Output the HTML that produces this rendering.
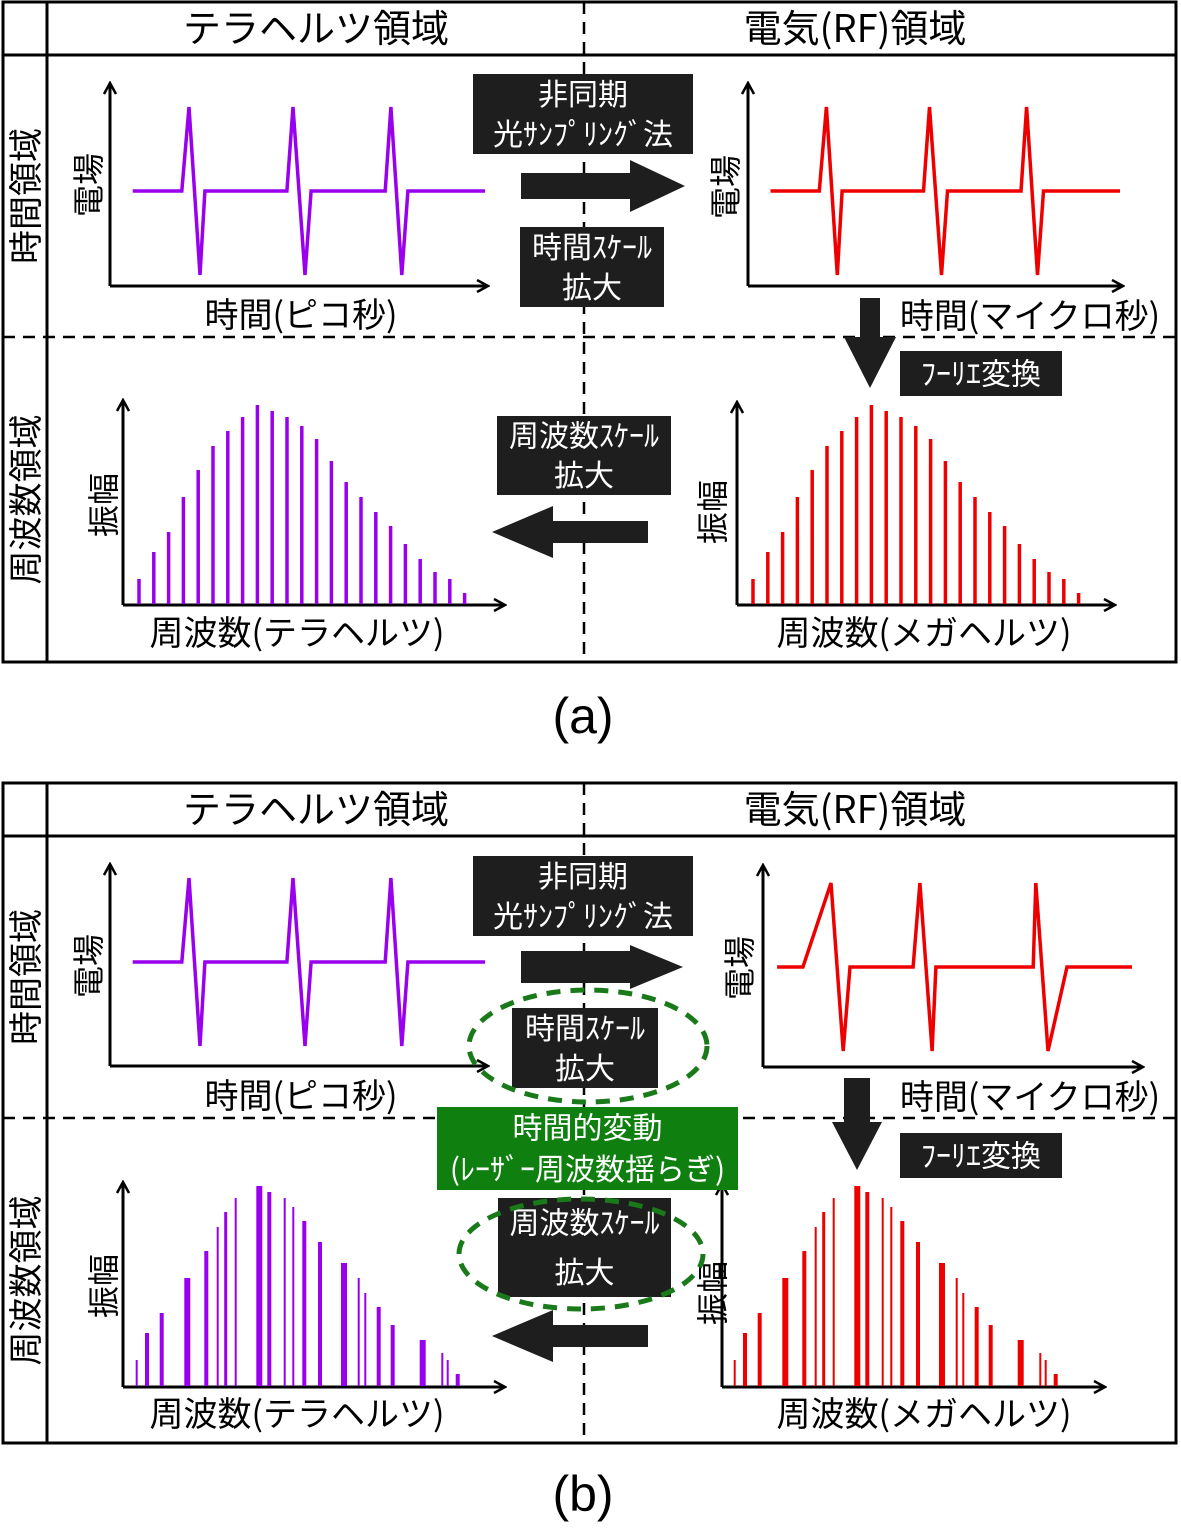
<!DOCTYPE html>
<html><head><meta charset="utf-8">
<style>
html,body{margin:0;padding:0;background:#fff;}
svg{display:block;font-family:"Liberation Sans","Noto Sans CJK JP",sans-serif;}
.cj{font-family:"Noto Sans CJK JP","Liberation Sans",sans-serif;}
</style></head>
<body>
<svg id="fig" width="1181" height="1531" viewBox="0 0 1181 1531" xmlns="http://www.w3.org/2000/svg">
<defs>
<marker id="ah" markerWidth="14" markerHeight="14" refX="12" refY="7" orient="auto" markerUnits="userSpaceOnUse">
<path d="M1,1 L12,7 L1,13" fill="none" stroke="#000" stroke-width="2.5"/>
</marker>
</defs>
<g id="static"></g>
<g id="marks"></g>
</svg>
<script>
// ---- data ----
const pulseTimeA = [6,19,20.9,23.8,25.1,46.8,48.4,51.6,53.2,72.8,74.3,77.2,78.8,99.2];
const pulseFieldA = [0,0,1,-1,0,0,1,-1,0,0,1,-1,0,0];
const pulseTimeRedB = [3.7,10.5,17.9,21.1,22.9,39.5,41.3,44.5,45.5,71.1,71.8,75,80,97.1];
const pulseFieldRedB = [0,0,1,-1,0,0,1,-1,0,0,1,-1,0,0];
const specFreqA = [16,30.8,45.6,60.4,75.2,90,104.8,119.6,134.4,149.2,164,178.8,193.6,208.4,223.2,238,252.8,267.6,282.4,297.2,312,326.8,341.6];
const specAmpA = [26,53,73,108,135,159,174,188,200,194,188,179,166,144,123,108,93,79,61,46,33,26,12];
const specFreqB = [13.7,24,38.7,64.3,83.3,94.7,102.7,112.7,136.3,146.3,161.7,170.3,181.3,197,221,235.7,242.3,255.7,269.7,299.7,319.3,324.7,334.7];
const specAmpB = [27,54,74,109,136,160,175,189,201,195,189,180,166,145,124,109,94,80,62,47,34,27,13];
const barWeightB = [2,4,4,6,4,2,3,2,6,4,2,2,4,4,6,2,2,4,4,6,2,2,4];

const NS="http://www.w3.org/2000/svg";
const S=document.getElementById('static'), M=document.getElementById('marks');
function el(tag,attrs,parent,txt){const e=document.createElementNS(NS,tag);for(const k in attrs)e.setAttribute(k,attrs[k]);if(txt!==undefined)e.textContent=txt;(parent||S).appendChild(e);return e;}

function frame(top,headerY,midY,bottom,label,labelY){
  let r=el('rect',{x:3,y:top,width:1173,height:bottom-top,fill:'none',stroke:'#000','stroke-width':3});
  
  el('line',{x1:3,y1:headerY,x2:1176,y2:headerY,stroke:'#000','stroke-width':3});
  el('line',{x1:47,y1:top,x2:47,y2:bottom,stroke:'#000','stroke-width':3});
  let d=el('line',{x1:3,y1:midY,x2:1176,y2:midY,stroke:'#000','stroke-width':2.5,'stroke-dasharray':'12 8'});
  
  let v=el('line',{x1:584,y1:top,x2:584,y2:bottom,stroke:'#000','stroke-width':2.5,'stroke-dasharray':'12 8'});
  
  let t1=el('text',{x:316,y:headerY-13,'font-size':38,'text-anchor':'middle'},S,'テラヘルツ領域');
  
  let t2=el('text',{x:855,y:headerY-13,'font-size':38,'text-anchor':'middle','class':'cj'},S,'電気(RF)領域');
  
  let cy1=(headerY+midY)/2, cy2=(midY+bottom)/2;
  let t3=el('text',{x:0,y:0,'font-size':34,'text-anchor':'middle',transform:`translate(38,${cy1}) rotate(-90)`},S,'時間領域');
  
  let t4=el('text',{x:0,y:0,'font-size':34,'text-anchor':'middle',transform:`translate(38,${cy2}) rotate(-90)`},S,'周波数領域');
  
  let t5=el('text',{x:583,y:labelY,'font-size':50,'text-anchor':'middle'},S,label);
  
}
frame(2,55,337,662,'(a)',733);
frame(783,836,1118,1443,'(b)',1511);

function axes(x0,y0,top,right){
  el('line',{x1:x0,y1:y0,x2:x0,y2:top,stroke:'#000','stroke-width':3,'marker-end':'url(#ah)'});
  el('line',{x1:x0,y1:y0,x2:right,y2:y0,stroke:'#000','stroke-width':3,'marker-end':'url(#ah)'});
}
function vtext(x,y,t,name){let e=el('text',{x:0,y:0,'font-size':32,'text-anchor':'middle',transform:`translate(${x},${y}) rotate(-90)`},S,t);}
function htext(x,y,t,name,size){let e=el('text',{x:x,y:y,'font-size':size||34,'text-anchor':'middle','class':'cj'},S,t);}

function pulsePlot(ax,ay,top,right,zeroY,amp,ts,vs,color,name){
  axes(ax,ay,top,right);
  const xs=t=>ax+(right-ax)*t/100, ys=v=>zeroY-v*amp;
  const pts=ts.map((t,i)=>xs(t).toFixed(1)+','+ys(vs[i]).toFixed(1)).join(' ');
  const p=el('polyline',{points:pts,fill:'none',stroke:color,'stroke-width':3.5,'stroke-linejoin':'miter'},M);
  
  
}
pulsePlot(110,286,83,488,191,84,pulseTimeA,pulseFieldA,'#9900ee','thz-pulse-train-a');
pulsePlot(748,286,83,1123,191,84,pulseTimeA,pulseFieldA,'#ee0000','rf-pulse-train-a');
pulsePlot(110,1066,864,488,962,84,pulseTimeA,pulseFieldA,'#9900ee','thz-pulse-train-b');
pulsePlot(763,1067,865,1143,967,84,pulseTimeRedB,pulseFieldRedB,'#ee0000','rf-pulse-train-b');

function specPlot(ax,ay,top,right,fs,as,ws,color,name){
  axes(ax,ay,top,right);
  const xs=f=>ax+f, ys=a=>ay-a;
  fs.forEach((f,i)=>{
    const b=el('line',{x1:xs(f),y1:ay-1,x2:xs(f),y2:ys(as[i]),stroke:color,'stroke-width':ws?ws[i]:3.5},M);
    
    
  });
}
specPlot(123,605,400,505,specFreqA,specAmpA,null,'#9900ee','thz-spectrum-a');
specPlot(737,605,402,1115,specFreqA,specAmpA,null,'#ee0000','rf-spectrum-a');
specPlot(123,1387,1182,505,specFreqB,specAmpB,barWeightB,'#9900ee','thz-spectrum-b');
specPlot(722,1387,1184,1105,specFreqB.map(f=>f-1),specAmpB,barWeightB,'#ee0000','rf-spectrum-b');

[[0,0],[1,781]].forEach(([k,dy])=>{
  htext(301,327+dy,'時間(ピコ秒)','time-ps-label');
  htext(1030,328+dy,'時間(マイクロ秒)','time-us-label');
  htext(297,645+dy,'周波数(テラヘルツ)','freq-thz-label');
  htext(924,645+dy,'周波数(メガヘルツ)','freq-mhz-label');
  vtext(100,185+dy,'電場','efield-label-thz');
  vtext(k?751:737,187+dy,'電場','efield-label-rf');
  vtext(115,505+dy,'振幅','amplitude-label-thz');
  vtext(724,512+dy,'振幅','amplitude-label-rf');
});

function box(x,y,w,h,lines,name,fill,size){
  const g=el('g',{});
  el('rect',{x:x,y:y,width:w,height:h,fill:fill||'#1e1e1e'},g);
  const n=lines.length;
  lines.forEach((t,i)=>el('text',{x:x+w/2,y:y+h*(i+0.5)/n+(size||30)*0.36,'font-size':size||30,'text-anchor':'middle',fill:'#fff','class':'cj'},g,t));
}
function arrowRight(x1,x2,xh,cy,sh,hh,name){
  const p=el('polygon',{points:`${x1},${cy-sh} ${xh},${cy-sh} ${xh},${cy-hh} ${x2},${cy} ${xh},${cy+hh} ${xh},${cy+sh} ${x1},${cy+sh}`,fill:'#1e1e1e'});
  
}
function arrowDown(cx,y1,yh,y2,sw,hw,name){
  const p=el('polygon',{points:`${cx-sw},${y1} ${cx+sw},${y1} ${cx+sw},${yh} ${cx+hw},${yh} ${cx},${y2} ${cx-hw},${yh} ${cx-sw},${yh}`,fill:'#1e1e1e'});
  
}
box(473,74,220,80,['非同期','光ｻﾝﾌﾟﾘﾝｸﾞ法'],'async-sampling-box-a');
arrowRight(521,685,630,186,13,26,'sampling-arrow-a');
box(520,227,144,80,['時間ｽｹｰﾙ','拡大'],'time-scale-box-a');
box(497,416,174,79,['周波数ｽｹｰﾙ','拡大'],'freq-scale-box-a');
arrowRight(648,492,553,532,11,26,'freq-scale-arrow-a');
arrowDown(870,298,337,388,10,26,'fourier-arrow-a');
box(900,351,162,45,['ﾌｰﾘｴ変換'],'fourier-box-a',null,30);
box(473,856,220,80,['非同期','光ｻﾝﾌﾟﾘﾝｸﾞ法'],'async-sampling-box-b');
arrowRight(521,683,630,967,16,22,'sampling-arrow-b');
box(512,1008,146,80,['時間ｽｹｰﾙ','拡大'],'time-scale-box-b');
box(498,1198,173,99,['周波数ｽｹｰﾙ','拡大'],'freq-scale-box-b');
arrowRight(648,492,553,1336,11,26,'freq-scale-arrow-b');
arrowDown(857,1078,1122,1170,13,25,'fourier-arrow-b');
box(900,1133,162,45,['ﾌｰﾘｴ変換'],'fourier-box-b',null,30);
box(437,1107,301,83,['時間的変動','(ﾚｰｻﾞｰ周波数揺らぎ)'],'fluctuation-box','#0f800f',30);
let e1=el('ellipse',{cx:588,cy:1046,rx:119,ry:56,fill:'none',stroke:'#1a7a1a','stroke-width':5,'stroke-dasharray':'14 10'});

let e2=el('ellipse',{cx:581,cy:1254,rx:122,ry:55,fill:'none',stroke:'#1a7a1a','stroke-width':5,'stroke-dasharray':'14 10'});

</script>
</body></html>
